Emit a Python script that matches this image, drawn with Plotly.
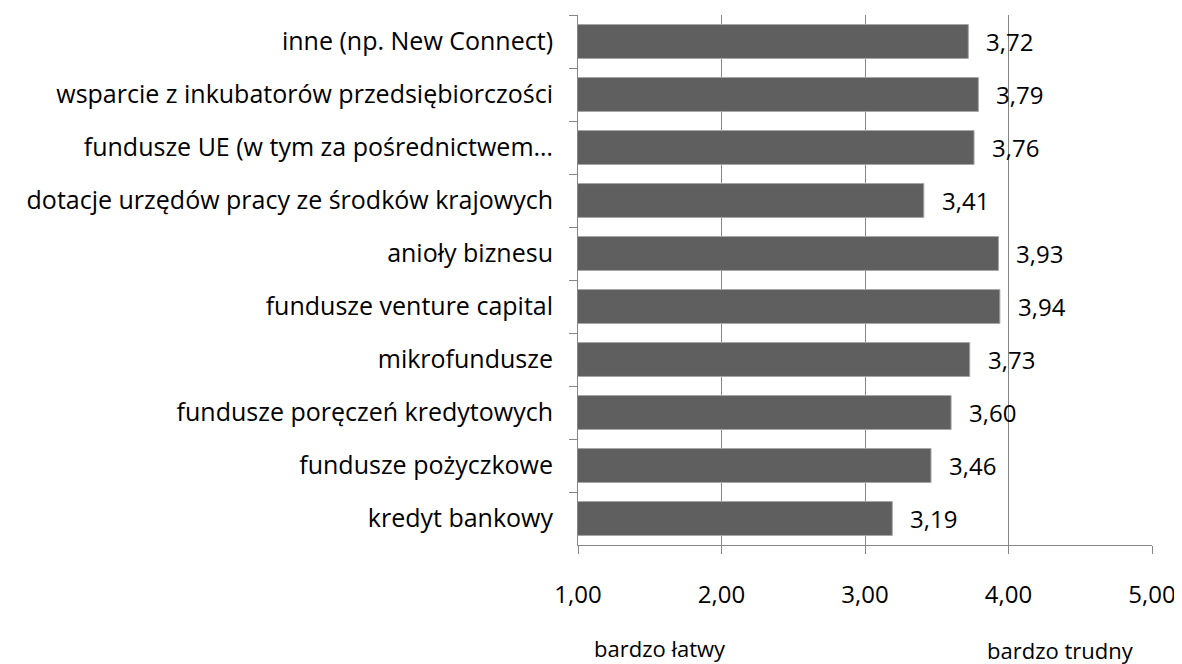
import plotly.graph_objects as go

# kategorie od góry do dołu
categories = ['inne (np. New Connect)',
              'wsparcie z inkubatorów przedsiębiorczości',
              'fundusze UE (w tym za pośrednictwem…',
              'dotacje urzędów pracy ze środków krajowych',
              'anioły biznesu',
              'fundusze venture capital',
              'mikrofundusze',
              'fundusze poręczeń kredytowych',
              'fundusze pożyczkowe',
              'kredyt bankowy']
values = [3.72, 3.79, 3.76, 3.41, 3.93, 3.94, 3.73, 3.60, 3.46, 3.19]
x_ticks = [1, 2, 3, 4, 5]
scale_labels = ['bardzo łatwy', 'bardzo trudny']

FONT = 'Open Sans'

fig = go.Figure(
    go.Bar(x=values, y=categories, orientation='h',
           marker=dict(color='#5f5f5f', line=dict(color='#a6a6a6', width=1)),
           width=0.64, hoverinfo='x+y')
)

# etykiety wartości
for v, c in zip(values, categories):
    fig.add_annotation(x=v, y=c, text=f'{v:.2f}'.replace('.', ','),
                       showarrow=False, xanchor='left', xshift=16,
                       font=dict(size=24, color='black', family=FONT))

# opisy skali pod osią
fig.add_annotation(x=1.57, y=0, yref='paper', yshift=-120, text=scale_labels[0],
                   showarrow=False, font=dict(size=22, color='black', family=FONT))
fig.add_annotation(x=4.36, y=0, yref='paper', yshift=-122, text=scale_labels[1],
                   showarrow=False, font=dict(size=22, color='black', family=FONT))

# strona ma margines 8 px, więc wymiary są o to pomniejszone
fig.update_layout(
    width=1174, height=656,
    margin=dict(l=570, r=30, t=7, b=119),
    plot_bgcolor='white', paper_bgcolor='white',
    separators=', ',
    showlegend=False,
    font=dict(family=FONT, color='black', size=24),
    xaxis=dict(range=[1, 5], tickvals=x_ticks, tickformat='.2f',
               showgrid=True, gridcolor='#868686', gridwidth=1,
               showline=True, linecolor='#868686', linewidth=1,
               ticks='outside', ticklen=8, tickcolor='#868686',
               ticklabelstandoff=20, zeroline=False, automargin=False,
               tickfont=dict(size=24)),
    yaxis=dict(autorange='reversed', tickson='boundaries',
               showline=True, linecolor='#868686', linewidth=1,
               ticks='outside', ticklen=8, tickcolor='#868686',
               ticklabelstandoff=19, showgrid=False, automargin=False,
               tickfont=dict(size=25)),
)

fig.write_html('out.html')
